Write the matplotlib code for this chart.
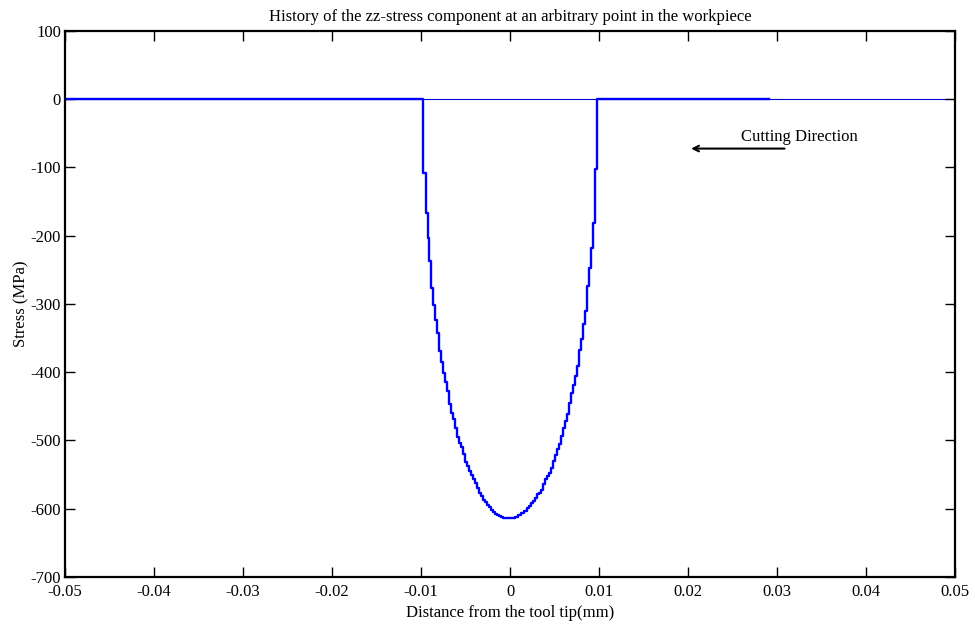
import matplotlib
matplotlib.use("Agg")
import matplotlib.pyplot as plt

plt.rcParams['font.family'] = ['Liberation Serif', 'DejaVu Serif']

# Staircase data (x in mm, stress in MPa); each value holds until the next x
x_left = [-0.05, -0.00981, -0.00944, -0.00925, -0.00906, -0.00888, -0.00861, -0.00839,
          -0.00817, -0.00798, -0.00775, -0.00753, -0.00730, -0.00704, -0.00685, -0.00663,
          -0.00637, -0.00618, -0.00596, -0.00573, -0.00551, -0.00528, -0.00506, -0.00483,
          -0.00461, -0.00438, -0.00416, -0.00393, -0.00371, -0.00348, -0.00326, -0.00303,
          -0.00281, -0.00258, -0.00236, -0.00213, -0.00191, -0.00169, -0.00146, -0.00124,
          -0.00101, -0.00079, -0.00056]
s_left = [0, -108.7, -166, -204, -237, -276, -302, -324,
          -343, -369, -385, -401, -414, -428, -446, -459,
          -469, -482, -495, -503, -510, -520, -532, -538,
          -545, -551, -557, -562, -569, -577, -582, -587,
          -590, -594, -598, -602, -605, -607, -609, -610,
          -612, -613, -614]

x_right = [0.00060, 0.00090, 0.00127, 0.00157, 0.00187, 0.00210, 0.00232, 0.00262,
           0.00285, 0.00307, 0.00330, 0.00352, 0.00375, 0.00397, 0.00419, 0.00442,
           0.00464, 0.00487, 0.00509, 0.00532, 0.00554, 0.00577, 0.00599, 0.00622,
           0.00644, 0.00667, 0.00689, 0.00712, 0.00734, 0.00757, 0.00779, 0.00802,
           0.00824, 0.00847, 0.00869, 0.00892, 0.00914, 0.00936, 0.00959, 0.00981,
           0.02914]
s_right = [-612.5, -609.6, -606, -603, -599, -595.5, -591.5, -588,
           -584, -579, -577, -572, -564, -557, -552.5, -547.5,
           -540, -529.5, -520.7, -513, -505, -494, -481.5, -472,
           -461, -445, -431, -419, -406, -391, -367, -350.6,
           -330, -310.5, -274, -247, -218.6, -181, -102.8, 0,
           0]

x_ticks = [-0.05, -0.04, -0.03, -0.02, -0.01, 0, 0.01, 0.02, 0.03, 0.04, 0.05]
x_ticklabels = ['-0.05', '-0.04', '-0.03', '-0.02', '-0.01', '0', '0.01', '0.02', '0.03', '0.04', '0.05']
y_ticks = [100, 0, -100, -200, -300, -400, -500, -600, -700]
y_ticklabels = ['100', '0', '-100', '-200', '-300', '-400', '-500', '-600', '-700']

baseline_x = [-0.05, 0.05]
baseline_y = [0, 0]

arrow_tail = (0.03116, -72.3)
arrow_head = (0.02003, -72.3)
label_pos = (0.02592, -61.3)

fig = plt.figure(figsize=(9.75, 6.26), dpi=100)
ax = fig.add_axes([0.0667, 0.0783, 0.9128, 0.8722])

ax.plot(baseline_x, baseline_y, color='#0000dd', linewidth=0.8, zorder=1)
xs = x_left + x_right
ys = s_left + s_right
ax.plot(xs, ys, color='#0000ff', linewidth=1.7, drawstyle='steps-post', zorder=2)

ax.set_xlim(-0.05, 0.05)
ax.set_ylim(-700, 100)
ax.set_xticks(x_ticks)
ax.set_xticklabels(x_ticklabels)
ax.set_yticks(y_ticks)
ax.set_yticklabels(y_ticklabels)
ax.tick_params(direction='in', length=7.5, width=1, top=True, right=True,
               labelsize=12)
ax.tick_params(axis='x', pad=5)
ax.tick_params(axis='y', pad=3)
for sp in ax.spines.values():
    sp.set_linewidth(1.6)

ax.set_title('History of the zz-stress component at an arbitrary point in the workpiece',
             fontsize=12, pad=7)
ax.set_xlabel('Distance from the tool tip(mm)', fontsize=12, labelpad=4)
ax.set_ylabel('Stress (MPa)', fontsize=12, labelpad=1)

ax.annotate('', xy=arrow_head, xytext=arrow_tail,
            arrowprops=dict(arrowstyle='->', color='black', lw=1.5))
ax.text(label_pos[0], label_pos[1], 'Cutting Direction', fontsize=12,
        ha='left', va='baseline')

fig.savefig('out.png', dpi=100)
